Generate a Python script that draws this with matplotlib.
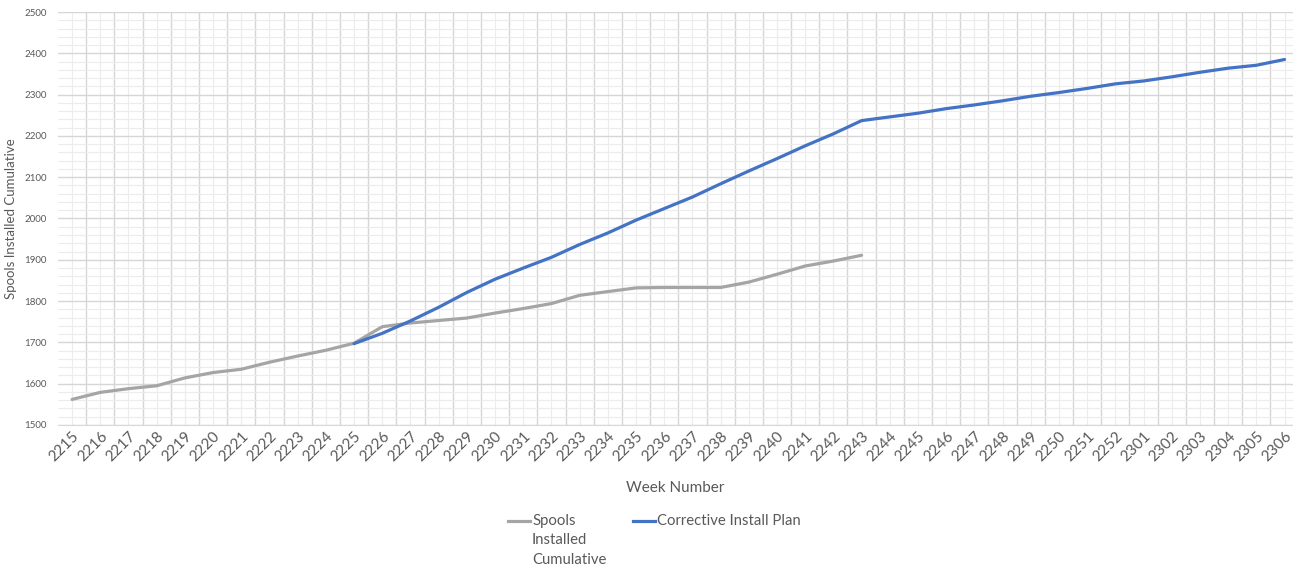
import matplotlib.pyplot as plt
from matplotlib.lines import Line2D
import numpy as np

weeks = [str(w) for w in range(2215, 2253)] + [str(w) for w in range(2301, 2307)]

# cumulative installed, weeks 2215..2243
installed = [1562, 1579, 1588, 1595, 1614, 1627, 1635, 1652, 1667, 1681,
             1698, 1738, 1747, 1753, 1759, 1771, 1782, 1794, 1814, 1823,
             1832, 1833, 1833, 1833, 1846, 1865, 1885, 1897, 1911]

# corrective plan, weeks 2225..2306
plan = [1697, 1722, 1752, 1785, 1821, 1853, 1880, 1906, 1937, 1965,
        1996, 2024, 2052, 2084, 2115, 2145, 2176, 2205, 2237, 2246,
        2255, 2266, 2275, 2285, 2296, 2305, 2315, 2326, 2333, 2343,
        2354, 2364, 2371, 2385]
plan_start = 10

series_names = ['Spools\nInstalled\nCumulative', 'Corrective Install Plan']
series_colors = ['#A5A5A5', '#4472C4']

txt = '#595959'
plt.rcParams['font.family'] = ['Lato', 'DejaVu Sans']

W, H = 1293, 568
fig = plt.figure(figsize=(W / 100, H / 100), dpi=100)
ax = fig.add_axes([58 / W, 1 - 425 / H, 1 - 58 / W, 413 / H])

x = np.arange(len(weeks))
ax.plot(x[:len(installed)], installed, color=series_colors[0], lw=2.3,
        solid_capstyle='round')
ax.plot(x[plan_start:plan_start + len(plan)], plan, color=series_colors[1], lw=2.3,
        solid_capstyle='round')

ax.set_xlim(-0.5, 43.3)
ax.set_ylim(1500, 2500)
ax.set_yticks(np.arange(1500, 2501, 100))
ax.set_yticks(np.arange(1500, 2501, 20), minor=True)
ax.set_xticks(x)
ax.set_xticklabels(weeks, rotation=45, ha='right', rotation_mode='anchor',
                   fontsize=11, color=txt)
ax.tick_params(axis='y', labelsize=7, colors=txt, length=0, pad=8)
ax.tick_params(axis='x', which='both', length=0, pad=3)
ax.tick_params(axis='y', which='minor', length=0)

# vertical major lines sit between categories, minor through them
for v in x[:-1] + 0.5:
    ax.axvline(v, color='#D6D6D6', lw=1.0, zorder=0)
for v in x:
    ax.axvline(v, color='#ECECEC', lw=0.8, zorder=0)
ax.grid(axis='y', which='major', color='#D6D6D6', lw=1.0, zorder=0)
ax.grid(axis='y', which='minor', color='#ECECEC', lw=0.8, zorder=0)
ax.set_axisbelow(True)

for s in ['top', 'right', 'left']:
    ax.spines[s].set_visible(False)
ax.spines['bottom'].set_color('#D9D9D9')

ax.set_ylabel('Spools Installed Cumulative', fontsize=9.5, color=txt, labelpad=5)
ax.set_xlabel('Week Number', fontsize=11, color=txt, labelpad=12)

# legend, Excel style: key on the first line of each entry
keys = [(508, 532), (633, 657)]
for (x0, tx), name, col in zip(keys, series_names, series_colors):
    fig.add_artist(Line2D([x0 / W, (x0 + 22) / W], [1 - 521 / H] * 2,
                          color=col, lw=2.3, transform=fig.transFigure))
    fig.text(tx / W, 1 - 514 / H, name, fontsize=10.7, color=txt,
             va='top', ha='left', linespacing=1.5)

fig.savefig('out.png', dpi=100)
